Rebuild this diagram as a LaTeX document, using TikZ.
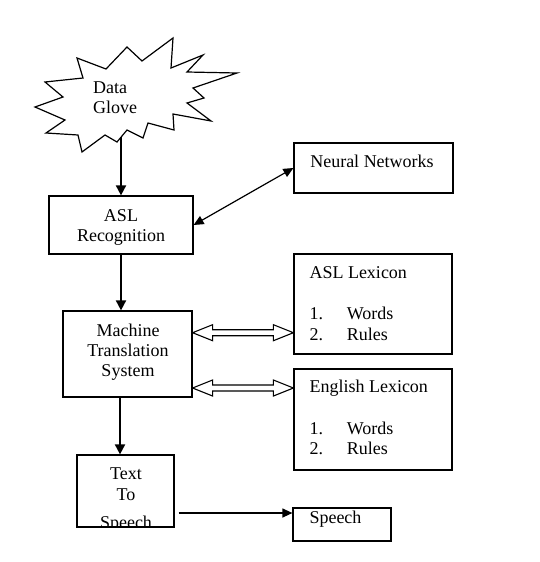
\documentclass[tikz,border=0pt]{standalone}
\usepackage{fontspec}
\setmainfont{Liberation Serif}
\usetikzlibrary{arrows.meta,calc,fit}
\begin{document}
\begin{tikzpicture}[x=1pt,y=-1pt,
  box/.style={draw,line width=1.2pt,inner sep=0pt,rectangle},
  txt/.style={inner sep=0pt,anchor=base,font=\fontsize{18}{20.5}\selectfont},
  txtl/.style={txt,anchor=base west},
  arrthick/.style={-{Triangle[length=10pt,width=10pt]},line width=1.8pt},
  arrthin/.style={-{Triangle[length=10pt,width=9pt]},line width=1.2pt},
  dblar/.style={draw,line width=1.1pt,line join=miter}]
\useasboundingbox (0,0) rectangle (539,562);

% starburst
\draw[line width=1.2pt,line join=miter]
  (35,107) -- (63,97) -- (45,82) -- (83,78) -- (77,58) -- (106,69) -- (127,47)
  -- (142,61) -- (173,38) -- (171,68) -- (203,55) -- (187,72) -- (237,73)
  -- (193,88) -- (204,98) -- (187,103) -- (211,121) -- (173,114) -- (174,130)
  -- (148,123) -- (143,138) -- (127,130) -- (117,142) -- (105,135) -- (82,152)
  -- (78,135) -- (46,133) -- (65,120) -- cycle;
\coordinate (starbot) at (121,137);
\node[txtl] (dg1) at (93,93.5) {Data};
\node[txtl] (dg2) at (93,113.5) {Glove};

% boxes
\node[box,fit={(49,196)(193,254)}] (asl) {};
\node[box,fit={(294,143)(453,193)}] (nn) {};
\node[box,fit={(63,311)(192,397)}] (mts) {};
\node[box,fit={(294,254)(452,354)}] (asllex) {};
\node[box,fit={(294,369)(452,470)}] (englex) {};
\node[box,fit={(77,455)(174,527)}] (tts) {};
\node[box,fit={(293,508)(391,541)}] (sp) {};

% texts
\node[txt] (t1) at (121,221.7) {ASL};
\node[txt] (t2) at (121,241.7) {Recognition};
\node[txt] (t3) at (372,167.3) {Neural Networks};
\node[txt] (t4) at (128,336) {Machine};
\node[txt] (t5) at (128,356.3) {Translation};
\node[txt] (t6) at (128,376.7) {System};
\node[txtl] (t7) at (309.3,278.3) {ASL Lexicon};
\node[txtl] (t8) at (309.3,319.3) {1.};
\node[txtl] (t9) at (346.7,319.3) {Words};
\node[txtl] (t10) at (309.3,340) {2.};
\node[txtl] (t11) at (346.7,340) {Rules};
\node[txtl] (t12) at (309.3,392.7) {English Lexicon};
\node[txtl] (t13) at (309.3,434.3) {1.};
\node[txtl] (t14) at (346.7,434.3) {Words};
\node[txtl] (t15) at (309.3,454.6) {2.};
\node[txtl] (t16) at (346.7,454.6) {Rules};
\node[txt] (t17) at (126,479.3) {Text};
\node[txt] (t18) at (126,500.3) {To};
\begin{scope}
  \clip (77,455) rectangle (174,527.5);
  \node[txt] (t19) at (126,528.5) {Speech};
\end{scope}
\node[txtl] (t20) at (309.3,523.3) {Speech};

% vertical arrows
\draw[arrthick] (starbot) -- (asl.north -| starbot);
\coordinate (v2) at (121,0);
\draw[arrthick] (asl.south -| v2) -- (mts.north -| v2);
\coordinate (v3) at (120,0);
\draw[arrthick] (mts.south -| v3) -- (tts.north -| v3);

% recognition <-> neural networks
\draw[arrthin,{Triangle[length=10pt,width=9pt]}-{Triangle[length=10pt,width=9pt]}] (asl.east) -- (nn.west);

% text to speech -> speech
\coordinate (h1) at (0,513);
\draw[arrthin] ($(tts.east |- h1)+(4,0)$) -- (sp.west |- h1);

% hollow double arrows
\coordinate (ya) at (0,332.7);
\coordinate (yb) at (0,388);
\coordinate (a1) at (mts.east |- ya);
\coordinate (a2) at (asllex.west |- ya);
\coordinate (b1) at (mts.east |- yb);
\coordinate (b2) at (englex.west |- yb);
\foreach \s/\e in {a1/a2,b1/b2}{
  \draw[dblar] (\s) -- ($(\s)+(20,-8)$) -- ($(\s)+(20,-3)$) -- ($(\e)+(-20,-3)$)
    -- ($(\e)+(-20,-8)$) -- (\e) -- ($(\e)+(-20,8)$) -- ($(\e)+(-20,3)$)
    -- ($(\s)+(20,3)$) -- ($(\s)+(20,8)$) -- cycle;
}
\end{tikzpicture}
\end{document}
